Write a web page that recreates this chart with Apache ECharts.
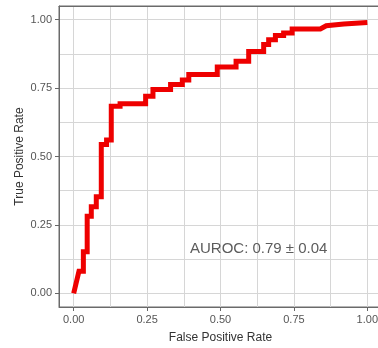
<!DOCTYPE html>
<html>
<head>
<meta charset="utf-8">
<script src="https://cdn.jsdelivr.net/npm/echarts@6/dist/echarts.min.js"></script>
<style>
html,body{margin:0;padding:0;background:#fff;overflow:hidden;}
#c{width:378px;height:348px;}
</style>
</head>
<body>
<div id="c"></div>
<script>
// ROC curve points
const fpr = [0,0.018,0.033,0.033,0.046,0.046,0.06,0.06,0.077,0.077,0.094,0.094,0.112,0.112,0.128,0.128,0.158,0.158,0.245,0.245,0.27,0.27,0.33,0.33,0.37,0.37,0.392,0.392,0.489,0.489,0.553,0.553,0.596,0.596,0.647,0.647,0.664,0.664,0.687,0.687,0.715,0.715,0.744,0.744,0.84,0.86,0.92,1.0];
const tpr = [0,0.081,0.081,0.152,0.152,0.282,0.282,0.316,0.316,0.353,0.353,0.544,0.544,0.56,0.56,0.684,0.684,0.693,0.693,0.72,0.72,0.745,0.745,0.763,0.763,0.78,0.78,0.80,0.80,0.827,0.827,0.848,0.848,0.884,0.884,0.909,0.909,0.927,0.927,0.942,0.942,0.951,0.951,0.966,0.966,0.978,0.984,0.99];
const tickValues = [0,0.25,0.5,0.75,1.0];
const xTitle = 'False Positive Rate';
const yTitle = 'True Positive Rate';
const annotation = 'AUROC: 0.79 \u00b1 0.04';

const FONT = 'Liberation Sans, Arial, sans-serif';
const FRAME = '#6a6a6a';
const chart = echarts.init(document.getElementById('c'), null, {renderer:'canvas'});
const points = fpr.map((x,i)=>[x,tpr[i]]);

function mainAxis(pos, name, gap){
  return {
    type:'value', position:pos, min:-0.05, max:1.05,
    minInterval:0.25, maxInterval:0.25,
    name:name, nameLocation:'middle', nameGap:gap, nameMoveOverlap:false,
    nameTextStyle:{color:'#333', fontSize:12, fontFamily:FONT},
    axisLine:{show:true, onZero:false, lineStyle:{color:FRAME, width:1}},
    axisTick:{show:true, length:4, lineStyle:{color:'#666'}, customValues:tickValues},
    axisLabel:{show:true, color:'#555', fontSize:11, fontFamily:FONT, margin:7,
      customValues:tickValues,
      formatter:v=>Number(v).toFixed(2)},
    splitLine:{show:false},
    z:3
  };
}
function gridAxis(pos){
  return {
    type:'value', position:pos, min:-0.05, max:1.05,
    minInterval:0.125, maxInterval:0.125,
    axisLine:{show:true, onZero:false, lineStyle:{color:FRAME, width:1}},
    axisTick:{show:false}, axisLabel:{show:false},
    splitLine:{show:true, lineStyle:{color:'#d6d6d6', width:1}}
  };
}

chart.setOption({
  animation:false,
  backgroundColor:'#fff',
  grid:{left:59, top:6, right:-4, bottom:41, show:true, backgroundColor:'#fff',
        borderColor:FRAME, borderWidth:1, outerBoundsMode:'none'},
  xAxis:[mainAxis('bottom', xTitle, 25), gridAxis('top')],
  yAxis:[mainAxis('left', yTitle, 33), gridAxis('right')],
  series:[{
    type:'line', xAxisIndex:0, yAxisIndex:0, data:points,
    showSymbol:false, symbol:'none',
    lineStyle:{color:'#ee0000', width:5, join:'miter', cap:'butt'},
    z:5
  }],
  graphic:[{
    type:'text', left:190, top:241, z:10,
    style:{text:annotation, font:'15px '+FONT, fill:'#5c5c5c'}
  }]
});
</script>
</body>
</html>
